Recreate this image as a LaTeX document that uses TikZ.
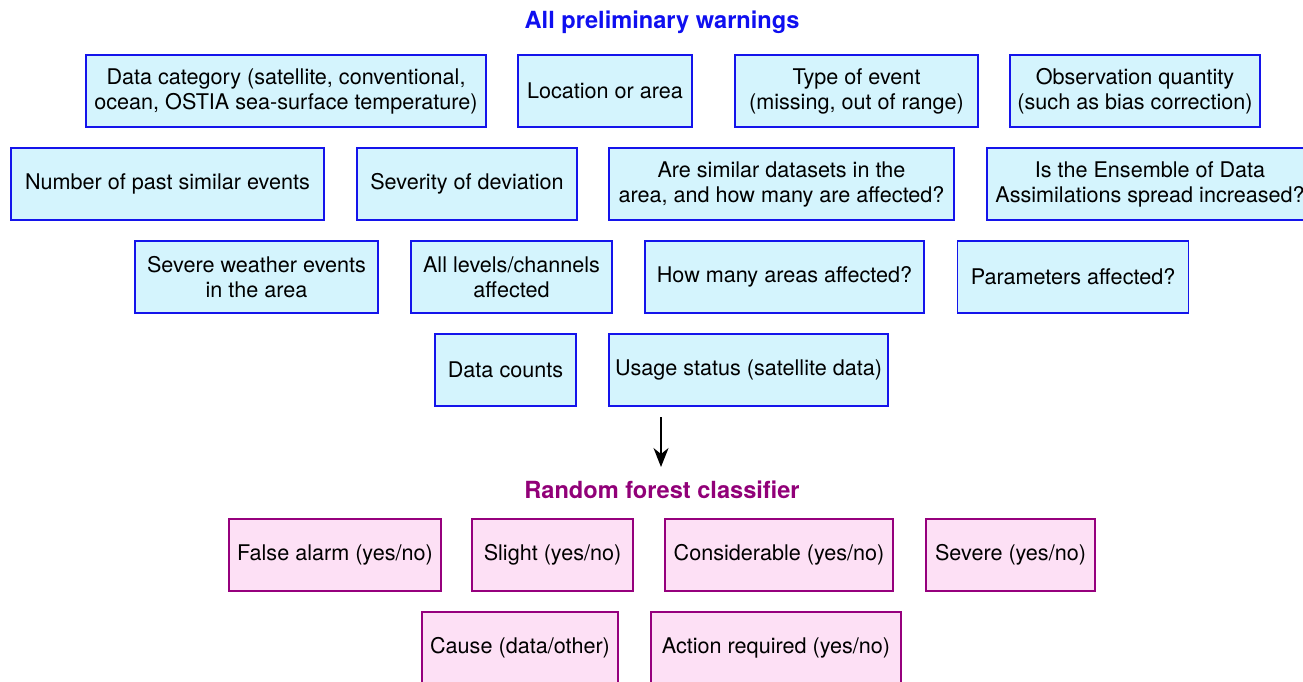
\documentclass[tikz,border=0pt]{standalone}
\usepackage{fontspec}
\setmainfont{TeX Gyre Heros}
\usetikzlibrary{arrows.meta,positioning}
\definecolor{warnfill}{RGB}{212,244,253}
\definecolor{warnline}{RGB}{20,20,235}
\definecolor{outfill}{RGB}{253,224,245}
\definecolor{outline}{RGB}{150,0,125}
\definecolor{titleblue}{RGB}{15,15,240}
\definecolor{titlepurple}{RGB}{145,0,120}
\tikzset{
  warnbox/.style={draw=warnline, fill=warnfill, line width=1.2pt, align=center,
    minimum height=72pt, inner sep=0pt, font=\fontsize{21.6}{25}\selectfont},
  outbox/.style={draw=outline, fill=outfill, line width=1.2pt, align=center,
    minimum height=72pt, inner sep=0pt, font=\fontsize{21.6}{25}\selectfont},
  headline/.style={inner sep=0pt, font=\fontsize{23.6}{26}\selectfont\bfseries}
}

\begin{document}
\begin{tikzpicture}[x=1pt, y=-1pt]
  \useasboundingbox (0,0) rectangle (1303,682);

  \node [headline, text=titleblue] (allwarn) at (662,22) {All preliminary warnings};

  % first row of warnings
  \node [warnbox, minimum width=400pt] (category) at (286,91) {Data category (satellite, conventional,\\ocean, OSTIA sea-surface temperature)};
  \node [warnbox, minimum width=174pt] (location) at (605,91) {Location or area};
  \node [warnbox, minimum width=243pt] (evtype) at (856.5,91) {Type of event\\(missing, out of range)};
  \node [warnbox, minimum width=250pt] (obsqty) at (1135,91) {Observation quantity\\(such as bias correction)};

  % second row
  \node [warnbox, minimum width=313pt] (pastevents) at (167.5,184) {Number of past similar events};
  \node [warnbox, minimum width=220pt] (severity) at (467,184) {Severity of deviation};
  \node [warnbox, minimum width=345pt] (similar) at (781.5,184) {Are similar datasets in the\\area, and how many are affected?};
  \node [warnbox, minimum width=326pt] (ensemble) at (1150,184) {Is the Ensemble of Data\\Assimilations spread increased?};

  % third row
  \node [warnbox, minimum width=243pt] (weather) at (256.5,277) {Severe weather events\\in the area};
  \node [warnbox, minimum width=201pt] (levels) at (511.5,277) {All levels/channels\\affected};
  \node [warnbox, minimum width=279pt] (areas) at (784.5,277) {How many areas affected?};
  \node [warnbox, minimum width=231pt] (params) at (1073,277) {Parameters affected?};

  % fourth row
  \node [warnbox, minimum width=141pt] (counts) at (505.5,370) {Data counts};
  \node [warnbox, minimum width=279pt] (usage) at (748.5,370) {Usage status (satellite data)};

  \node [headline, text=titlepurple] (forest) at (662,490) {Random forest classifier};

  \coordinate (arrtop) at (661,417);
  \coordinate (arrend) at (661,467);
  \draw [line width=1.6pt, -{Stealth[length=19pt, width=15pt, inset=6pt]}] (arrtop) -- (arrend);

  % outputs of the classifier
  \node [outbox, minimum width=212pt] (falsealarm) at (335,555) {False alarm (yes/no)};
  \node [outbox, minimum width=161pt] (slight) at (552.5,555) {Slight (yes/no)};
  \node [outbox, minimum width=228pt] (considerable) at (779,555) {Considerable (yes/no)};
  \node [outbox, minimum width=169pt] (severe) at (1010.5,555) {Severe (yes/no)};

  \node [outbox, minimum width=196pt] (cause) at (520,648) {Cause (data/other)};
  \node [outbox, minimum width=250pt] (action) at (776,648) {Action required (yes/no)};
\end{tikzpicture}
\end{document}
